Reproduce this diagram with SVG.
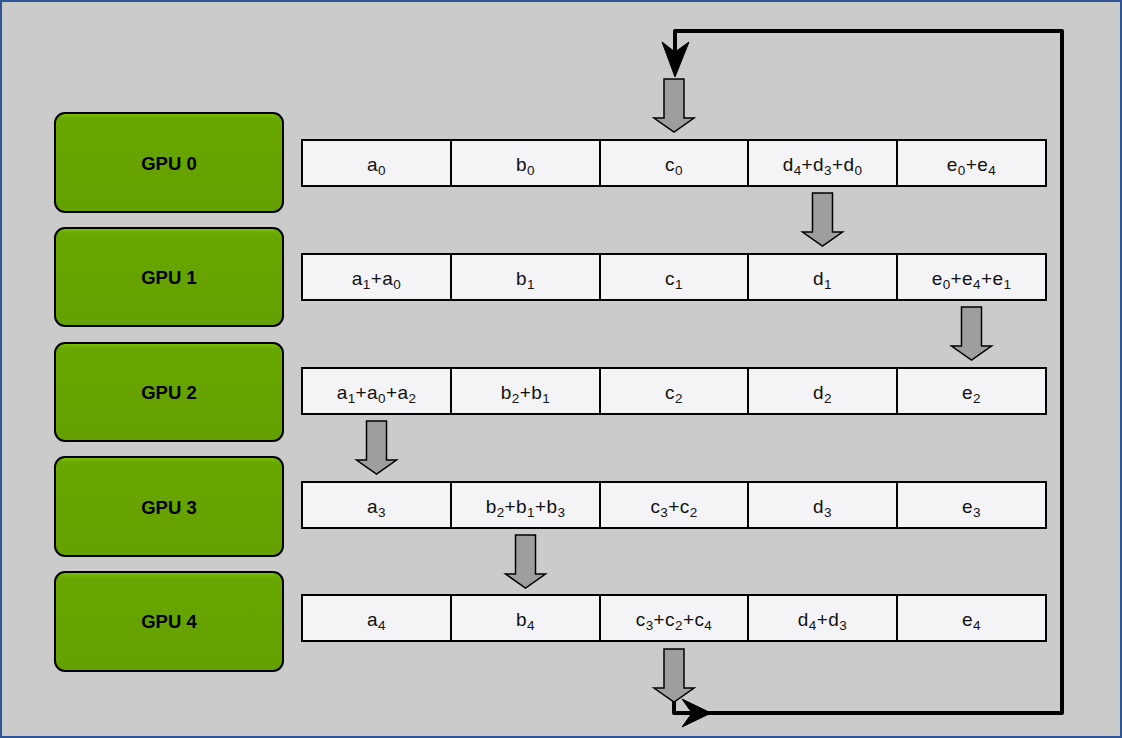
<svg xmlns="http://www.w3.org/2000/svg" width="1122" height="738" viewBox="0 0 1122 738">
<defs>
<linearGradient id="gpuGrad" x1="0" y1="0" x2="0" y2="1">
<stop offset="0" stop-color="#7cc400"/>
<stop offset="0.06" stop-color="#68a600"/>
<stop offset="1" stop-color="#64a000"/>
</linearGradient>
</defs>
<style>
.gpu rect{fill:url(#gpuGrad);stroke:#000;stroke-width:2}
.gpu text{font-family:"Liberation Sans",Arial,sans-serif;font-weight:bold;font-size:18.5px;fill:#000;text-anchor:middle}
.cell rect{fill:#f4f4f6;stroke:#000;stroke-width:2}
.cell text{font-family:"Liberation Sans",Arial,sans-serif;font-size:19px;letter-spacing:0.4px;fill:#111;text-anchor:middle}
.cell tspan.s{font-size:13.5px}
.barrow{fill:#9e9e9e;stroke:#000;stroke-width:1.5;stroke-linejoin:miter}
.loop{fill:none;stroke:#000;stroke-width:4;stroke-linejoin:round}
.head{fill:#000;stroke:#000;stroke-width:1}
</style>
<rect x="1" y="1" width="1120" height="736" fill="#cbcbcb" stroke="#2f5597" stroke-width="2"/>

<g id="gpu0" class="gpu"><rect x="55" y="113" width="228" height="99" rx="10"/><text x="169" y="170">GPU 0</text></g>
<g id="gpu1" class="gpu"><rect x="55" y="228" width="228" height="98" rx="10"/><text x="169" y="284">GPU 1</text></g>
<g id="gpu2" class="gpu"><rect x="55" y="343" width="228" height="98" rx="10"/><text x="169" y="399">GPU 2</text></g>
<g id="gpu3" class="gpu"><rect x="55" y="457" width="228" height="99" rx="10"/><text x="169" y="514">GPU 3</text></g>
<g id="gpu4" class="gpu"><rect x="55" y="572" width="228" height="99" rx="10"/><text x="169" y="628">GPU 4</text></g>

<!-- row 0 -->
<g id="r0a" class="cell"><rect x="302" y="140" width="149" height="46"/><text x="376.5" y="171">a<tspan class="s" dy="3.5">0</tspan></text></g>
<g id="r0b" class="cell"><rect x="451" y="140" width="149" height="46"/><text x="525.5" y="171">b<tspan class="s" dy="3.5">0</tspan></text></g>
<g id="r0c" class="cell"><rect x="600" y="140" width="148" height="46"/><text x="674" y="171">c<tspan class="s" dy="3.5">0</tspan></text></g>
<g id="r0d" class="cell"><rect x="748" y="140" width="149" height="46"/><text x="822.5" y="171">d<tspan class="s" dy="3.5">4</tspan><tspan dy="-3.5">+d</tspan><tspan class="s" dy="3.5">3</tspan><tspan dy="-3.5">+d</tspan><tspan class="s" dy="3.5">0</tspan></text></g>
<g id="r0e" class="cell"><rect x="897" y="140" width="149" height="46"/><text x="971.5" y="171">e<tspan class="s" dy="3.5">0</tspan><tspan dy="-3.5">+e</tspan><tspan class="s" dy="3.5">4</tspan></text></g>

<!-- row 1 -->
<g id="r1a" class="cell"><rect x="302" y="254" width="149" height="46"/><text x="376.5" y="285">a<tspan class="s" dy="3.5">1</tspan><tspan dy="-3.5">+a</tspan><tspan class="s" dy="3.5">0</tspan></text></g>
<g id="r1b" class="cell"><rect x="451" y="254" width="149" height="46"/><text x="525.5" y="285">b<tspan class="s" dy="3.5">1</tspan></text></g>
<g id="r1c" class="cell"><rect x="600" y="254" width="148" height="46"/><text x="674" y="285">c<tspan class="s" dy="3.5">1</tspan></text></g>
<g id="r1d" class="cell"><rect x="748" y="254" width="149" height="46"/><text x="822.5" y="285">d<tspan class="s" dy="3.5">1</tspan></text></g>
<g id="r1e" class="cell"><rect x="897" y="254" width="149" height="46"/><text x="971.5" y="285">e<tspan class="s" dy="3.5">0</tspan><tspan dy="-3.5">+e</tspan><tspan class="s" dy="3.5">4</tspan><tspan dy="-3.5">+e</tspan><tspan class="s" dy="3.5">1</tspan></text></g>

<!-- row 2 -->
<g id="r2a" class="cell"><rect x="302" y="368" width="149" height="46"/><text x="376.5" y="399">a<tspan class="s" dy="3.5">1</tspan><tspan dy="-3.5">+a</tspan><tspan class="s" dy="3.5">0</tspan><tspan dy="-3.5">+a</tspan><tspan class="s" dy="3.5">2</tspan></text></g>
<g id="r2b" class="cell"><rect x="451" y="368" width="149" height="46"/><text x="525.5" y="399">b<tspan class="s" dy="3.5">2</tspan><tspan dy="-3.5">+b</tspan><tspan class="s" dy="3.5">1</tspan></text></g>
<g id="r2c" class="cell"><rect x="600" y="368" width="148" height="46"/><text x="674" y="399">c<tspan class="s" dy="3.5">2</tspan></text></g>
<g id="r2d" class="cell"><rect x="748" y="368" width="149" height="46"/><text x="822.5" y="399">d<tspan class="s" dy="3.5">2</tspan></text></g>
<g id="r2e" class="cell"><rect x="897" y="368" width="149" height="46"/><text x="971.5" y="399">e<tspan class="s" dy="3.5">2</tspan></text></g>

<!-- row 3 -->
<g id="r3a" class="cell"><rect x="302" y="482" width="149" height="46"/><text x="376.5" y="513">a<tspan class="s" dy="3.5">3</tspan></text></g>
<g id="r3b" class="cell"><rect x="451" y="482" width="149" height="46"/><text x="525.5" y="513">b<tspan class="s" dy="3.5">2</tspan><tspan dy="-3.5">+b</tspan><tspan class="s" dy="3.5">1</tspan><tspan dy="-3.5">+b</tspan><tspan class="s" dy="3.5">3</tspan></text></g>
<g id="r3c" class="cell"><rect x="600" y="482" width="148" height="46"/><text x="674" y="513">c<tspan class="s" dy="3.5">3</tspan><tspan dy="-3.5">+c</tspan><tspan class="s" dy="3.5">2</tspan></text></g>
<g id="r3d" class="cell"><rect x="748" y="482" width="149" height="46"/><text x="822.5" y="513">d<tspan class="s" dy="3.5">3</tspan></text></g>
<g id="r3e" class="cell"><rect x="897" y="482" width="149" height="46"/><text x="971.5" y="513">e<tspan class="s" dy="3.5">3</tspan></text></g>

<!-- row 4 -->
<g id="r4a" class="cell"><rect x="302" y="595" width="149" height="46"/><text x="376.5" y="626">a<tspan class="s" dy="3.5">4</tspan></text></g>
<g id="r4b" class="cell"><rect x="451" y="595" width="149" height="46"/><text x="525.5" y="626">b<tspan class="s" dy="3.5">4</tspan></text></g>
<g id="r4c" class="cell"><rect x="600" y="595" width="148" height="46"/><text x="674" y="626">c<tspan class="s" dy="3.5">3</tspan><tspan dy="-3.5">+c</tspan><tspan class="s" dy="3.5">2</tspan><tspan dy="-3.5">+c</tspan><tspan class="s" dy="3.5">4</tspan></text></g>
<g id="r4d" class="cell"><rect x="748" y="595" width="149" height="46"/><text x="822.5" y="626">d<tspan class="s" dy="3.5">4</tspan><tspan dy="-3.5">+d</tspan><tspan class="s" dy="3.5">3</tspan></text></g>
<g id="r4e" class="cell"><rect x="897" y="595" width="149" height="46"/><text x="971.5" y="626">e<tspan class="s" dy="3.5">4</tspan></text></g>

<g id="connectors">
<path class="loop" d="M674,700 L674,713 L1062,713 L1062,31 L675,31 L675,60"/>
<path class="head" d="M675,77 L662,42 L675,52 L689,42 Z"/>
<path class="head" d="M711,713 L682,699 L692,713 L682,727 Z"/>
<g id="blockArrows">
<path class="barrow" d="M664,79 h20 v39 h10 l-20,14 l-20,-14 h10 z"/>
<path class="barrow" d="M812.5,193 h20 v39 h10 l-20,14 l-20,-14 h10 z"/>
<path class="barrow" d="M961.5,307 h20 v39 h10 l-20,14 l-20,-14 h10 z"/>
<path class="barrow" d="M366.5,421 h20 v39 h10 l-20,14 l-20,-14 h10 z"/>
<path class="barrow" d="M515.5,535 h20 v39 h10 l-20,14 l-20,-14 h10 z"/>
<path class="barrow" d="M664,649 h20 v39 h10 l-20,14 l-20,-14 h10 z"/>
</g>
</g>
</svg>
